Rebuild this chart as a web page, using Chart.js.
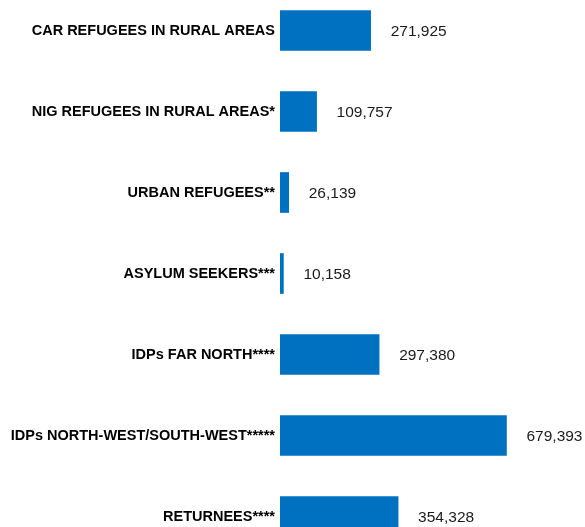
<!DOCTYPE html>
<html>
<head>
<meta charset="utf-8">
<script src="https://cdn.jsdelivr.net/npm/chart.js@4"></script>
<style>
  html, body { margin: 0; padding: 0; background: #fff; overflow: hidden; }
  body { width: 585px; height: 527px; position: relative; }
  #wrap { position: absolute; left: 0; top: -10px; width: 585px; height: 567px; }
</style>
</head>
<body>
<div id="wrap"><canvas id="chart"></canvas></div>
<script>
const categories = [
  'CAR REFUGEES IN RURAL AREAS',
  'NIG REFUGEES IN RURAL AREAS*',
  'URBAN REFUGEES**',
  'ASYLUM SEEKERS***',
  'IDPs FAR NORTH****',
  'IDPs NORTH-WEST/SOUTH-WEST*****',
  'RETURNEES****',
]
const values = [271925, 109757, 26139, 10158, 297380, 679393, 354328]

const barColor = '#0070C0'

// value text to the right of each bar
const valueLabels = {
  id: 'valueLabels',
  afterDatasetsDraw(chart) {
    const ctx = chart.ctx
    const meta = chart.getDatasetMeta(0)
    ctx.save()
    ctx.font = '15.5px "Liberation Sans", Arial, sans-serif'
    ctx.fillStyle = '#1a1a1a'
    ctx.textAlign = 'left'
    ctx.textBaseline = 'middle'
    meta.data.forEach((bar, i) => {
      const v = chart.data.datasets[0].data[i]
      ctx.fillText(v.toLocaleString('en-US'), bar.x + 20, bar.y + 1)
    })
    ctx.restore()
  },
}

new Chart(document.getElementById('chart'), {
  type: 'bar',
  data: {
    labels: categories,
    datasets: [{
      data: values,
      backgroundColor: barColor,
      borderWidth: 0,
      barThickness: 40,
    }],
  },
  options: {
    indexAxis: 'y',
    responsive: true,
    maintainAspectRatio: false,
    animation: false,
    layout: { padding: { top: 0, bottom: 0, left: 0, right: 5 } },
    plugins: {
      legend: { display: false },
      tooltip: { enabled: false },
    },
    scales: {
      x: {
        display: false,
        min: 0,
        max: 900000,
      },
      y: {
        grid: { display: false, drawTicks: false },
        border: { display: false },
        afterFit(scale) {
          scale.width = 280
          scale.paddingTop = 0
          scale.paddingBottom = 0
        },
        ticks: {
          padding: 5,
          color: '#000',
          font: { family: '"Liberation Sans", Arial, sans-serif', size: 14.5, weight: 'bold' },
        },
      },
    },
  },
  plugins: [valueLabels],
})
</script>
</body>
</html>
